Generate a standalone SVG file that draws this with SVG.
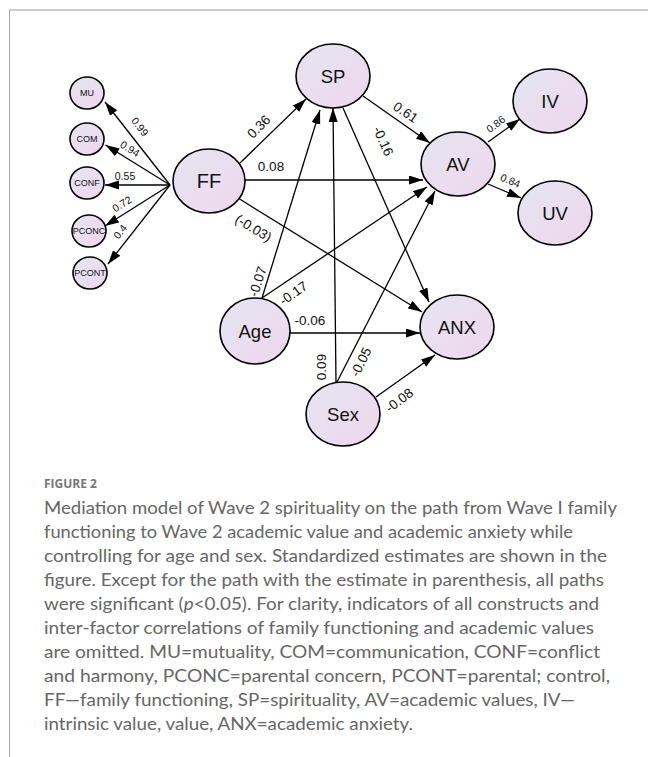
<svg xmlns="http://www.w3.org/2000/svg" width="648" height="757" viewBox="0 0 648 757">
<defs>
<linearGradient id="nf" x1="0" y1="0" x2="1" y2="1">
<stop offset="0" stop-color="#e4e6f0"/>
<stop offset="1" stop-color="#efd6ee"/>
</linearGradient>
<marker id="ah" markerUnits="userSpaceOnUse" markerWidth="15" markerHeight="10" refX="14" refY="4.5" orient="auto">
<path d="M0,0 L14,4.5 L0,9 z" fill="#000"/>
</marker>
<style>
.n{fill:url(#nf);stroke:#000;stroke-width:1.6}
.nt{font-family:"Liberation Sans",Arial,sans-serif;font-size:18.5px;text-anchor:middle;fill:#111}
.st{font-family:"Liberation Sans",Arial,sans-serif;font-size:9px;text-anchor:middle;fill:#111}
.e{stroke:#000;stroke-width:1.3;fill:none;marker-end:url(#ah)}
.el{font-family:"Liberation Sans",Arial,sans-serif;font-size:13.5px;text-anchor:middle;fill:#111}
.es{font-family:"Liberation Sans",Arial,sans-serif;font-size:10.5px;text-anchor:middle;fill:#111}
.cap{font-family:"Lato","Open Sans",sans-serif;font-size:16.5px;fill:#666}
.fig{font-family:"Open Sans","Lato",sans-serif;font-size:12px;font-weight:bold;fill:#777}
</style>
</defs>
<rect x="0" y="0" width="648" height="757" fill="#fff"/>
<line x1="9" y1="10" x2="648" y2="10" stroke="#bbb" stroke-width="1.6"/>
<line x1="9.5" y1="10" x2="9.5" y2="757" stroke="#aaa" stroke-width="1"/>

<g id="connectors">
<line class="e" x1="170" y1="185" x2="105" y2="102"/>
<line class="e" x1="170" y1="185" x2="105.5" y2="145"/>
<line class="e" x1="170" y1="185" x2="105" y2="185"/>
<line class="e" x1="170" y1="185" x2="105" y2="226"/>
<line class="e" x1="170" y1="185" x2="108" y2="264"/>
<line class="e" x1="240" y1="163" x2="306" y2="99"/>
<line class="e" x1="245" y1="180" x2="423" y2="180"/>
<line class="e" x1="238" y1="198" x2="422" y2="312"/>
<line class="e" x1="363" y1="96" x2="430" y2="143"/>
<line class="e" x1="343" y1="108" x2="429" y2="302"/>
<line class="e" x1="262" y1="298" x2="320" y2="110"/>
<line class="e" x1="262" y1="298" x2="427" y2="187"/>
<line class="e" x1="290" y1="333" x2="420" y2="333"/>
<line class="e" x1="336" y1="382" x2="333" y2="108"/>
<line class="e" x1="337" y1="382" x2="435" y2="191"/>
<line class="e" x1="376" y1="397" x2="435" y2="355"/>
<line class="e" x1="488" y1="142" x2="520" y2="119"/>
<line class="e" x1="488" y1="184" x2="521" y2="198"/>

<text class="es" transform="translate(137,129) rotate(52)">0.99</text>
<text class="es" transform="translate(128,152) rotate(32)">0.94</text>
<text class="es" x="125" y="180">0.55</text>
<text class="es" transform="translate(124,207) rotate(-32)">0.72</text>
<text class="es" transform="translate(123,234) rotate(-52)">0.4</text>
<text class="el" transform="translate(262,130) rotate(-45)">0.36</text>
<text class="el" x="271" y="171">0.08</text>
<text class="el" transform="translate(251,232) rotate(31)">(-0.03)</text>
<text class="el" transform="translate(403,116) rotate(34)">0.61</text>
<text class="el" transform="translate(379,143) rotate(66)">-0.16</text>
<text class="el" transform="translate(262,283) rotate(-72)">-0.07</text>
<text class="el" transform="translate(296,297) rotate(-35)">-0.17</text>
<text class="el" x="310" y="325">-0.06</text>
<text class="el" transform="translate(326,367) rotate(-90)">0.09</text>
<text class="el" transform="translate(365,364) rotate(-64)">-0.05</text>
<text class="el" transform="translate(402,404) rotate(-37)">-0.08</text>
<text class="es" transform="translate(498,127) rotate(-37)">0.86</text>
<text class="es" transform="translate(509,184) rotate(22)">0.84</text>
</g>

<g id="MU"><ellipse class="n" cx="87" cy="93" rx="17" ry="16"/><text class="st" x="87" y="96">MU</text></g>
<g id="COM"><ellipse class="n" cx="87" cy="139" rx="17" ry="16"/><text class="st" x="87" y="142">COM</text></g>
<g id="CONF"><ellipse class="n" cx="87" cy="183" rx="17" ry="16"/><text class="st" x="87" y="186">CONF</text></g>
<g id="PCONC"><ellipse class="n" cx="89" cy="231" rx="17" ry="16"/><text class="st" x="89" y="234">PCONC</text></g>
<g id="PCONT"><ellipse class="n" cx="90" cy="273" rx="17" ry="16"/><text class="st" x="90" y="276">PCONT</text></g>
<g id="FF"><ellipse class="n" cx="209" cy="181" rx="36" ry="32"/><text class="nt" x="209" y="188" style="font-size:20px">FF</text></g>
<g id="SP"><ellipse class="n" cx="333" cy="76" rx="37" ry="32"/><text class="nt" x="333" y="83">SP</text></g>
<g id="AV"><ellipse class="n" cx="458" cy="164" rx="37" ry="32"/><text class="nt" x="458" y="171">AV</text></g>
<g id="IV"><ellipse class="n" cx="550" cy="101" rx="37" ry="32"/><text class="nt" x="550" y="108">IV</text></g>
<g id="UV"><ellipse class="n" cx="555" cy="213" rx="37" ry="32"/><text class="nt" x="555" y="220">UV</text></g>
<g id="Age"><ellipse class="n" cx="255" cy="331" rx="35" ry="33"/><text class="nt" x="255" y="338">Age</text></g>
<g id="ANX"><ellipse class="n" cx="457" cy="327" rx="37" ry="32"/><text class="nt" x="457" y="334">ANX</text></g>
<g id="Sex"><ellipse class="n" cx="343" cy="414" rx="37" ry="32"/><text class="nt" x="343" y="421">Sex</text></g>

<g id="caption">
<text class="fig" x="44" y="488" textLength="53" lengthAdjust="spacingAndGlyphs">FIGURE 2</text>
<text class="cap" x="44" y="514" textLength="573" lengthAdjust="spacingAndGlyphs">Mediation model of Wave 2 spirituality on the path from Wave I family</text>
<text class="cap" x="44" y="538" textLength="529" lengthAdjust="spacingAndGlyphs">functioning to Wave 2 academic value and academic anxiety while</text>
<text class="cap" x="44" y="562" textLength="563" lengthAdjust="spacingAndGlyphs">controlling for age and sex. Standardized estimates are shown in the</text>
<text class="cap" x="44" y="586" textLength="560" lengthAdjust="spacingAndGlyphs">figure. Except for the path with the estimate in parenthesis, all paths</text>
<text class="cap" x="44" y="610" textLength="555" lengthAdjust="spacingAndGlyphs">were significant (<tspan font-style="italic">p</tspan>&lt;0.05). For clarity, indicators of all constructs and</text>
<text class="cap" x="44" y="634" textLength="550" lengthAdjust="spacingAndGlyphs">inter-factor correlations of family functioning and academic values</text>
<text class="cap" x="44" y="658" textLength="556" lengthAdjust="spacingAndGlyphs">are omitted. MU=mutuality, COM=communication, CONF=conflict</text>
<text class="cap" x="44" y="682" textLength="566" lengthAdjust="spacingAndGlyphs">and harmony, PCONC=parental concern, PCONT=parental; control,</text>
<text class="cap" x="44" y="706" textLength="531" lengthAdjust="spacingAndGlyphs">FF—family functioning, SP=spirituality, AV=academic values, IV—</text>
<text class="cap" x="44" y="730" textLength="369" lengthAdjust="spacingAndGlyphs">intrinsic value, value, ANX=academic anxiety.</text>
</g>
</svg>
